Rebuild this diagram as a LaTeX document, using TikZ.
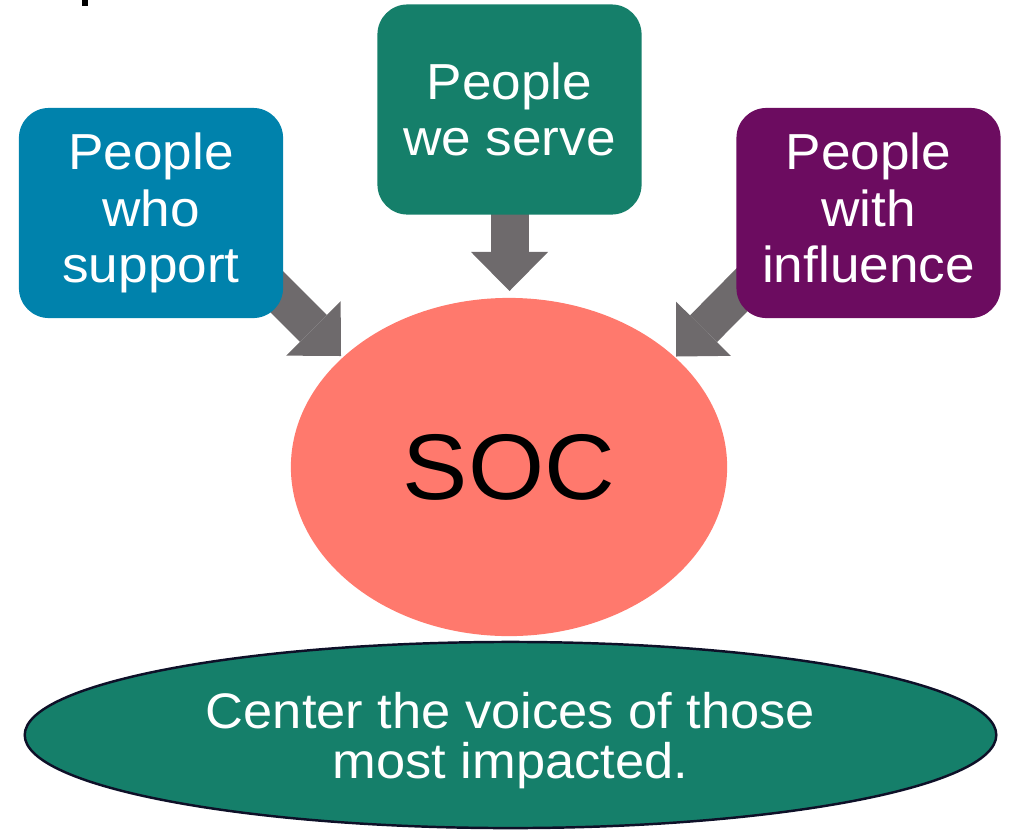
\documentclass[tikz,border=0pt]{standalone}
\usepackage{fontspec}
\setmainfont{Liberation Sans}[FakeStretch=1.05]
\usetikzlibrary{arrows.meta,shapes.geometric,calc}
\pgfdeclarelayer{background}
\pgfsetlayers{background,main}

\definecolor{boxblue}{RGB}{0,130,172}
\definecolor{boxgreen}{RGB}{21,127,106}
\definecolor{boxpurple}{RGB}{108,12,96}
\definecolor{socred}{RGB}{255,121,109}
\definecolor{arrowgray}{RGB}{110,106,108}
\definecolor{rimnavy}{RGB}{14,16,40}

\begin{document}
\begin{tikzpicture}[x=0.01cm,y=-0.01cm,
  card/.style={rectangle,rounded corners=0.3cm,minimum width=2.64cm,
    minimum height=2.10cm,inner sep=0pt,text=white,align=center,
    font=\fontsize{14.4pt}{16.1pt}\selectfont},
  flow/.style={draw=arrowgray,line width=10.8pt,
    -{Triangle[length=11.1pt,width=21.9pt,line width=0pt]}},
  hub/.style={ellipse,fill=socred,inner sep=0pt,
    minimum width=4.36cm,minimum height=3.38cm,
    font=\fontsize{26.5pt}{30pt}\selectfont},
  base/.style={ellipse,fill=boxgreen,draw=rimnavy,line width=0.7pt,
    inner sep=0pt,minimum width=9.71cm,minimum height=1.86cm,
    text=white,align=center,text depth=0pt,
    font=\fontsize{14.2pt}{14.2pt}\selectfont}]
\useasboundingbox (0,0) rectangle (1010,830);

% clipped descender of the heading line above
\fill (82,0) rectangle (87.5,6);

% the three groups
\node[card,fill=boxblue]   (blue)   at (151,213)   {People\\who\\support};
\node[card,fill=boxgreen]  (green)  at (509.5,109.5) {People\\we serve};
\node[card,fill=boxpurple,text depth=3pt] (purple) at (868.5,213) {People\\with\\influence};

% centre and foundation
\node[hub]  (soc)  at (509,467) {SOC};
\node[base] (voices) at (510.5,735) {Center the voices of those\\most impacted.};

% arrow heads stop just short of the SOC ellipse
\coordinate (tipL) at (341,356);
\coordinate (tipM) at (509.5,291);
\coordinate (tipR) at (676,356.5);

\begin{pgfonlayer}{background}
  \draw[flow] ($(blue.south east)+(-28,-48)$) -- (tipL);
  \draw[flow] ($(green.south)+(0,-34)$) -- (tipM);
  \draw[flow] ($(purple.south west)+(33,-56)$) -- (tipR);
\end{pgfonlayer}
\end{tikzpicture}
\end{document}
